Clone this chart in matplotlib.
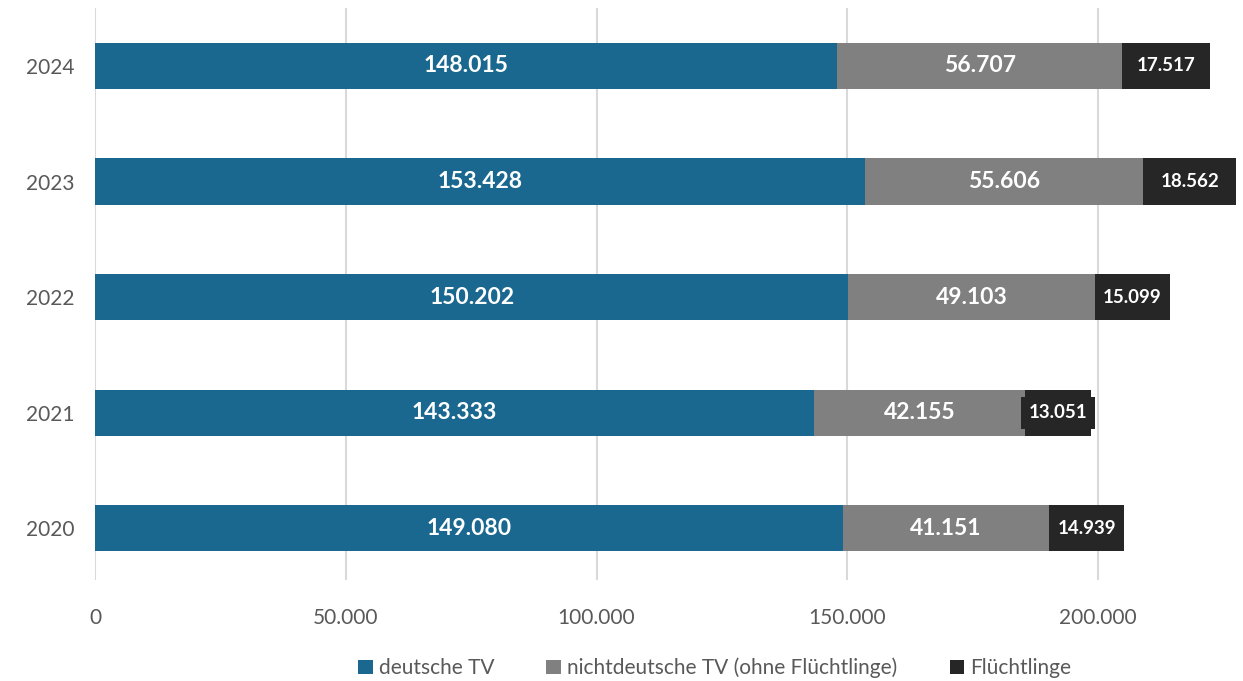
import matplotlib.pyplot as plt
import numpy as np

plt.rcParams['font.family'] = ['Lato', 'DejaVu Sans']

jahre = ['2020', '2021', '2022', '2023', '2024']
deutsche = [149080, 143333, 150202, 153428, 148015]
nichtdeutsche = [41151, 42155, 49103, 55606, 56707]
fluechtlinge = [14939, 13051, 15099, 18562, 17517]

farben = ['#1a688f', '#808080', '#262626']
namen = ['deutsche TV', 'nichtdeutsche TV (ohne Flüchtlinge)', 'Flüchtlinge']


def fmt(v):
    return f"{v:,}".replace(',', '.')


fig = plt.figure(figsize=(12.43, 6.81), dpi=100)
ax = fig.add_axes([0.0764, 0.148, 0.920, 0.840])

y = np.arange(len(jahre))
links = np.zeros(len(jahre))
for werte, farbe, name in zip([deutsche, nichtdeutsche, fluechtlinge], farben, namen):
    ax.barh(y, werte, left=links, height=0.4, color=farbe, label=name, zorder=2)
    for i, v in enumerate(werte):
        mitte = links[i] + v / 2
        if name == 'Flüchtlinge':
            ax.text(mitte, y[i], fmt(v), ha='center', va='center', color='white',
                    fontsize=13.5, fontweight='bold', zorder=4,
                    bbox=dict(boxstyle='square,pad=0.4', fc=farbe, ec='none'))
        else:
            ax.text(mitte, y[i], fmt(v), ha='center', va='center', color='white',
                    fontsize=16.5, fontweight='bold', zorder=4)
    links += np.array(werte)

ax.set_xlim(0, 228000)
ax.set_ylim(-0.45, 4.5)
ax.set_xticks([0, 50000, 100000, 150000, 200000])
ax.set_xticklabels([fmt(t) for t in [0, 50000, 100000, 150000, 200000]])
ax.set_yticks(y)
ax.set_yticklabels(jahre)
ax.tick_params(axis='both', length=0, labelsize=15, labelcolor='#595959')
ax.tick_params(axis='x', pad=20)
ax.tick_params(axis='y', pad=15)
ax.grid(axis='x', color='#d9d9d9', linewidth=1.5, zorder=0)
for s in ax.spines.values():
    s.set_visible(False)

fig.legend(loc='center', bbox_to_anchor=(0.575, 0.019), ncol=3, frameon=False,
           fontsize=15, labelcolor='#595959', handlelength=0.7, handleheight=0.7,
           handletextpad=0.3, columnspacing=2.5)

fig.savefig('out.png', dpi=100)
